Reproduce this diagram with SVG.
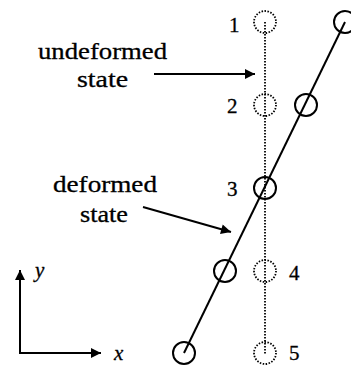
<svg xmlns="http://www.w3.org/2000/svg" width="351" height="365" viewBox="0 0 351 365">
<defs>
<marker id="ah" viewBox="0 0 10 10" refX="10" refY="5" markerWidth="16" markerHeight="10" markerUnits="userSpaceOnUse" orient="auto">
<path d="M0,0 L10,5 L0,10 Z" fill="#000"/>
</marker>
</defs>
<style>
text{font-family:'Liberation Serif','Times New Roman',serif;fill:#000;stroke:#000;stroke-width:0.3}
.t{font-size:23px}
.n{font-size:21px}
.i{font-size:21px;font-style:italic}
.dc{fill:none;stroke:#000;stroke-width:1.8;stroke-dasharray:1.5 1.5}
.sc{fill:none;stroke:#000;stroke-width:2}
.ln{stroke:#000;stroke-width:2;fill:none}
</style>
<rect width="351" height="365" fill="#fff"/>
<g id="connectors">
<line class="ln" x1="184" y1="353" x2="345" y2="22"/>
<line x1="265" y1="22" x2="265" y2="354" stroke="#000" stroke-width="1.8" stroke-dasharray="1.6 1.4"/>
<line class="ln" x1="154" y1="74" x2="255" y2="74" marker-end="url(#ah)"/>
<line class="ln" x1="143" y1="207" x2="231" y2="232" marker-end="url(#ah)"/>
<line class="ln" x1="20" y1="353" x2="20" y2="270" marker-end="url(#ah)"/>
<line class="ln" x1="19" y1="353" x2="101" y2="353" marker-end="url(#ah)"/>
</g>
<g id="undeformed">
<circle id="u1" class="dc" cx="265" cy="22" r="11"/>
<circle id="u2" class="dc" cx="265" cy="105" r="11"/>
<circle id="u4" class="dc" cx="265" cy="271" r="11"/>
<circle id="u5" class="dc" cx="265" cy="353" r="11"/>
</g>
<g id="deformed">
<circle id="d1" class="sc" cx="345" cy="22" r="11"/>
<circle id="d2" class="sc" cx="306" cy="105" r="11"/>
<circle id="d3" class="sc" cx="265" cy="188" r="11"/>
<circle id="d4" class="sc" cx="225" cy="271" r="11"/>
<circle id="d5" class="sc" cx="184" cy="353" r="11"/>
</g>
<g id="labels">
<text class="n" x="229" y="32">1</text>
<text class="n" x="227" y="113">2</text>
<text class="n" x="227" y="196">3</text>
<text class="n" x="289" y="280">4</text>
<text class="n" x="289" y="360">5</text>
<text class="t" x="38" y="59" textLength="129" lengthAdjust="spacingAndGlyphs">undeformed</text>
<text class="t" x="77" y="87" textLength="51" lengthAdjust="spacingAndGlyphs">state</text>
<text class="t" x="53" y="192" textLength="104" lengthAdjust="spacingAndGlyphs">deformed</text>
<text class="t" x="80" y="222" textLength="48" lengthAdjust="spacingAndGlyphs">state</text>
<text class="i" x="35" y="277">y</text>
<text class="i" x="114" y="360">x</text>
</g>
</svg>
